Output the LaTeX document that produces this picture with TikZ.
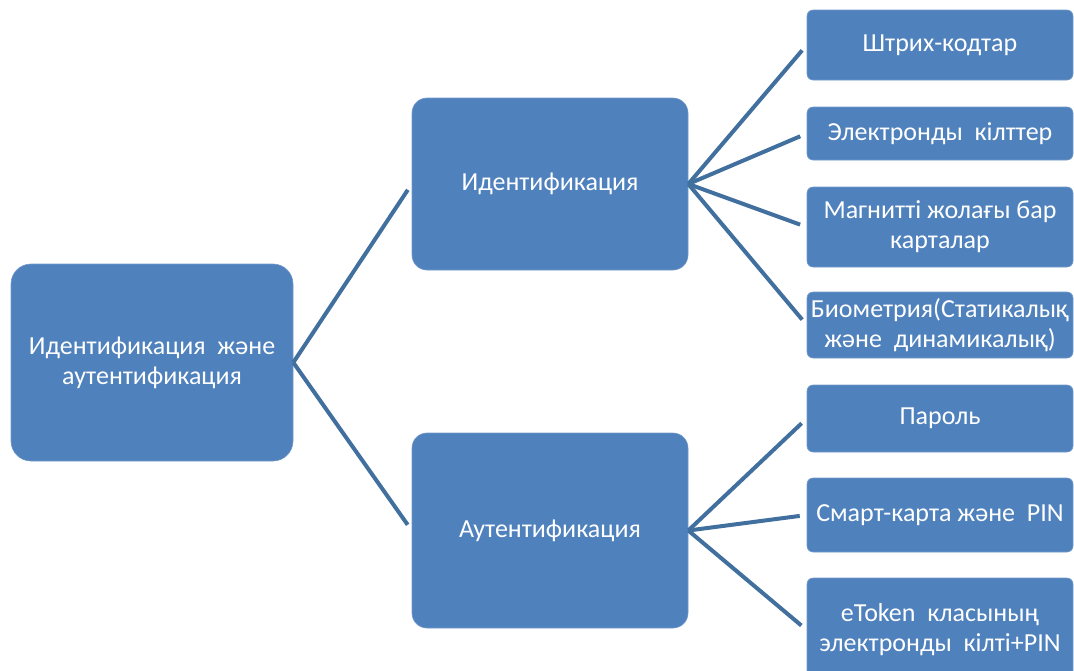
\documentclass[tikz,border=0pt]{standalone}
\usepackage{fontspec}
\setmainfont{Carlito}
\definecolor{boxblue}{HTML}{4F81BD}
\definecolor{linkblue}{HTML}{41709F}
\tikzset{
  box/.style={rectangle, rounded corners=#1, fill=boxblue, draw=boxblue!80!white,
    line width=0.6pt, text=white, align=center, inner sep=0pt,
    font=\fontsize{26}{30}\selectfont},
  box/.default=6pt,
  link/.style={draw=linkblue, line width=4pt, shorten >=7pt}
}
\begin{document}
\begin{tikzpicture}[x=1pt,y=-1pt]
      \useasboundingbox (0,0) rectangle (1074,670);
      \clip (0,0) rectangle (1074,670);
      \draw
        (152,362.5) node[box=20pt, minimum width=282pt, minimum height=197pt] (root){Идентификация\ \ және\\аутентификация}
        (550,184) node[box=15pt, minimum width=276pt, minimum height=172pt] (ident){Идентификация}
        (550,530.5) node[box=15pt, minimum width=276pt, minimum height=195pt] (auth){Аутентификация}
        (940,45) node[box, minimum width=266pt, minimum height=70pt] (barcode){Штрих-кодтар}
        (940,133.5) node[box, minimum width=266pt, minimum height=53pt] (ekeys){Электронды\ \ кілттер}
        (940,227) node[box, minimum width=266pt, minimum height=80pt] (magcard){Магнитті жолағы бар\\карталар}
        (940,325) node[box, minimum width=266pt, minimum height=66pt] (biometry){Биометрия(Статикалық\\және\ \ динамикалық)}
        (940,418.5) node[box, minimum width=266pt, minimum height=67pt] (password){Пароль}
        (940,515) node[box, minimum width=266pt, minimum height=74pt] (smartcard){Смарт-карта және\ \ PIN}
        (940,630) node[box, minimum width=266pt, minimum height=104pt] (etoken){eToken\ \ класының\\электронды\ \ кілті+PIN};
      \begin{scope}[link]
        \draw (root.east) to (ident.west);
        \draw (root.east) to (auth.west);
        \draw (ident.east) to (barcode.west);
        \draw (ident.east) to (ekeys.west);
        \draw (ident.east) to (magcard.west);
        \draw (ident.east) to (biometry.west);
        \draw (auth.east) to (password.west);
        \draw (auth.east) to (smartcard.west);
        \draw (auth.east) to (etoken.west);
      \end{scope}
    \end{tikzpicture}
\end{document}
